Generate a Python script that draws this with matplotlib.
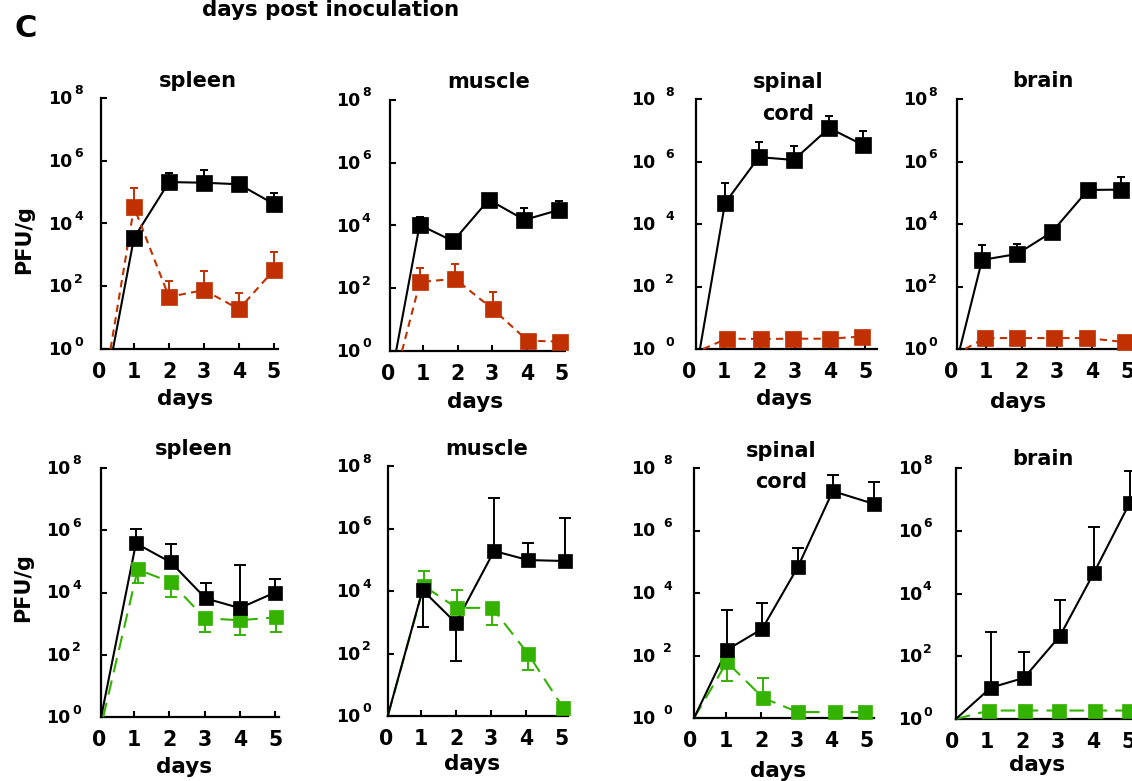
import numpy as np
import matplotlib
matplotlib.use("Agg")
import matplotlib.pyplot as plt

W, H = 1132, 781
plt.rcParams['font.family'] = ['DejaVu Sans']
plt.rcParams['font.weight'] = 'bold'

nan = np.nan
# ---------------- data (log10 PFU/g) ----------------
panel_titles = ["spleen", "muscle", "spinal\ncord", "brain",
                "spleen", "muscle", "spinal\ncord", "brain"]
x_tick_days = [0, 1, 2, 3, 4, 5]
y_tick_exps = [0, 2, 4, 6, 8]
header_text = "days post inoculation"
panel_letter = "C"
x_label = "days"
y_label = "PFU/g"

# top row: black vs red
t_spleen_blk_x = [0.40, 1.0, 2.0, 3.0, 4.0, 5.0]
t_spleen_blk_y = [0, 3.54, 5.32, 5.30, 5.25, 4.62]
t_spleen_blk_hi = [nan, nan, 5.60, 5.70, nan, 4.96]
t_spleen_red_x = [0.33, 1.0, 2.0, 3.0, 4.0, 5.0]
t_spleen_red_y = [0, 4.52, 1.66, 1.88, 1.27, 2.52]
t_spleen_red_hi = [nan, 5.13, 2.17, 2.48, 1.78, 3.09]

t_muscle_blk_x = [0.22, 0.90, 1.87, 2.90, 3.93, 4.94]
t_muscle_blk_y = [0, 4.02, 3.50, 4.82, 4.18, 4.50]
t_muscle_blk_hi = [nan, 4.27, nan, nan, 4.56, 4.78]
t_muscle_red_x = [0.39, 0.91, 1.92, 3.01, 4.02, 4.96]
t_muscle_red_y = [0, 2.20, 2.30, 1.34, 0.33, 0.30]
t_muscle_red_hi = [nan, 2.65, 2.78, 1.88, nan, nan]

t_cord_blk_x = [0.31, 1.02, 1.98, 2.97, 3.97, 4.93]
t_cord_blk_y = [0, 4.67, 6.14, 6.05, 7.07, 6.53]
t_cord_blk_hi = [nan, 5.30, 6.62, 6.50, 7.46, 6.98]
t_cord_red_x = [0.40, 1.07, 2.03, 2.94, 3.99, 4.90]
t_cord_red_y = [0, 0.33, 0.32, 0.33, 0.33, 0.40]

t_brain_blk_x = [0.25, 0.88, 1.87, 2.86, 3.88, 4.82]
t_brain_blk_y = [0, 2.85, 3.04, 3.74, 5.09, 5.10]
t_brain_blk_hi = [nan, 3.33, 3.36, nan, nan, 5.50]
t_brain_red_x = [0.40, 0.96, 1.87, 2.92, 3.85, 4.93]
t_brain_red_y = [0, 0.35, 0.35, 0.35, 0.35, 0.22]

# bottom row: black vs green
b_spleen_blk_x = [0.06, 1.05, 2.04, 3.03, 4.0, 5.0]
b_spleen_blk_y = [0, 5.58, 4.97, 3.81, 3.50, 4.00]
b_spleen_blk_hi = [nan, 6.03, 5.55, 4.30, 4.87, 4.42]
b_spleen_grn_x = [0.12, 1.10, 2.04, 3.01, 4.0, 5.03]
b_spleen_grn_y = [0, 4.74, 4.33, 3.17, 3.11, 3.20]
b_spleen_grn_lo = [nan, 4.30, 3.85, 2.72, 2.63, 2.72]

b_muscle_blk_x = [0.05, 1.04, 1.99, 3.08, 4.05, 5.10]
b_muscle_blk_y = [0, 4.03, 2.98, 5.28, 4.99, 4.96]
b_muscle_blk_hi = [nan, nan, nan, 6.98, 5.54, 6.34]
b_muscle_blk_lo = [nan, 2.85, 1.76, nan, nan, nan]
b_muscle_grn_x = [0.05, 1.08, 2.01, 3.03, 4.04, 5.05]
b_muscle_grn_y = [0, 4.16, 3.46, 3.46, 2.00, 0.26]
b_muscle_grn_hi = [nan, 4.64, 4.03, nan, nan, nan]
b_muscle_grn_lo = [nan, nan, nan, 2.90, 1.47, nan]

b_cord_blk_x = [0.10, 1.03, 2.03, 3.04, 4.03, 5.20]
b_cord_blk_y = [0, 2.18, 2.85, 4.83, 7.26, 6.85]
b_cord_blk_hi = [nan, 3.46, 3.68, 5.44, 7.78, 7.55]
b_cord_grn_x = [0.10, 1.03, 2.06, 3.04, 4.08, 4.93]
b_cord_grn_y = [0, 1.79, 0.64, 0.19, 0.19, 0.19]
b_cord_grn_hi = [nan, nan, 1.28, nan, nan, nan]
b_cord_grn_lo = [nan, 1.18, nan, nan, nan, nan]

b_brain_blk_x = [0.11, 1.10, 2.04, 3.06, 4.02, 5.04]
b_brain_blk_y = [0, 1.00, 1.31, 2.65, 4.66, 6.90]
b_brain_blk_hi = [nan, 2.78, 2.14, 3.80, 6.13, 7.90]
b_brain_grn_x = [0.11, 1.05, 2.07, 3.03, 4.05, 5.00]
b_brain_grn_y = [0, 0.27, 0.27, 0.27, 0.27, 0.27]

# ---------------- styling / layout ----------------
BLACK, RED, GREEN = '#000000', '#c03000', '#33b300'

# pixel geometry: day0 px, px per day, y(10^0), y(10^8), xmax, spine x, "10" right offset, exp left offset
geom = [
    (99.0, 35.0, 349, 98, 5.11, 0.06, -29, -27),
    (388.5, 34.6, 351, 100, 5.10, 0.04, -30, -28),
    (689.0, 35.3, 349, 99, 5.33, 0.20, -41, -31),
    (951.0, 35.3, 349, 99, 6.00, 0.17, -30, -29),
    (99.0, 35.2, 717, 468, 5.10, 0.06, -31, -29),
    (386.0, 35.1, 716, 466, 5.19, 0.06, -28, -26),
    (690.5, 35.3, 718, 468, 5.20, 0.10, -39, -31),
    (952.0, 35.3, 719, 468, 6.00, 0.11, -34, -33),
]
title_pos = [(198, 87, 120), (489, 88, 120), (788, 88, 120), (1043, 87, 120),
             (194, 455, 488), (487, 455, 488), (781, 457, 488), (1043, 465, 496)]
days_pos = [(185, 405), (475, 408), (784, 405), (1018, 408),
            (184, 773), (472, 770), (778, 777), (1037, 771)]

fig = plt.figure(figsize=(W / 100, H / 100), dpi=100)


def fx(x):
    return x / W


def fy(y):
    return 1 - y / H


def series(ax, x, logy, hi, lo, color, dashes, ms, cap):
    x = np.asarray(x, float)
    v = 10 ** np.asarray(logy, float)
    if dashes is None:
        ax.plot(x, v, color=color, lw=1.5, zorder=3, clip_on=False)
    else:
        ax.plot(x, v, color=color, lw=1.5, dashes=dashes, zorder=3, clip_on=False)
    hi = np.full(len(x), nan) if hi is None else np.asarray(hi, float)
    lo = np.full(len(x), nan) if lo is None else np.asarray(lo, float)
    mask = ~(np.isnan(hi) & np.isnan(lo))
    if mask.any():
        up = np.where(np.isnan(hi), 0.0, 10 ** np.nan_to_num(hi) - v)
        dn = np.where(np.isnan(lo), 0.0, v - 10 ** np.nan_to_num(lo))
        ax.errorbar(x[mask], v[mask], yerr=[dn[mask], up[mask]], fmt='none',
                    ecolor=color, elinewidth=1.4, capsize=cap, capthick=1.4,
                    zorder=2, clip_on=False)
    ax.plot(x[1:], v[1:], 's', color=color, ms=ms, mec=color, mew=0.5,
            zorder=4, clip_on=False)


panels = [
    [(t_spleen_blk_x, t_spleen_blk_y, t_spleen_blk_hi, None, BLACK, None),
     (t_spleen_red_x, t_spleen_red_y, t_spleen_red_hi, None, RED, (3.5, 2.5))],
    [(t_muscle_blk_x, t_muscle_blk_y, t_muscle_blk_hi, None, BLACK, None),
     (t_muscle_red_x, t_muscle_red_y, t_muscle_red_hi, None, RED, (3.5, 2.5))],
    [(t_cord_red_x, t_cord_red_y, None, None, RED, (3.5, 2.5)),
     (t_cord_blk_x, t_cord_blk_y, t_cord_blk_hi, None, BLACK, None)],
    [(t_brain_red_x, t_brain_red_y, None, None, RED, (3.5, 2.5)),
     (t_brain_blk_x, t_brain_blk_y, t_brain_blk_hi, None, BLACK, None)],
    [(b_spleen_grn_x, b_spleen_grn_y, None, b_spleen_grn_lo, GREEN, (7, 4)),
     (b_spleen_blk_x, b_spleen_blk_y, b_spleen_blk_hi, None, BLACK, None)],
    [(b_muscle_grn_x, b_muscle_grn_y, b_muscle_grn_hi, b_muscle_grn_lo, GREEN, (7, 4)),
     (b_muscle_blk_x, b_muscle_blk_y, b_muscle_blk_hi, b_muscle_blk_lo, BLACK, None)],
    [(b_cord_grn_x, b_cord_grn_y, b_cord_grn_hi, b_cord_grn_lo, GREEN, (7, 4)),
     (b_cord_blk_x, b_cord_blk_y, b_cord_blk_hi, None, BLACK, None)],
    [(b_brain_grn_x, b_brain_grn_y, None, None, GREEN, (7, 4)),
     (b_brain_blk_x, b_brain_blk_y, b_brain_blk_hi, None, BLACK, None)],
]

for i, (g, sers) in enumerate(zip(geom, panels)):
    d0, ppd, y0, y8, xmax, xa, ten_r, exp_l = g
    ax = fig.add_axes([fx(d0), fy(y0), xmax * ppd / W, (y0 - y8) / H])
    ax.set_facecolor('none')
    ax.set_yscale('log')
    ax.set_ylim(1, 1e8)
    ax.set_xlim(0, xmax)
    for s in ('top', 'right'):
        ax.spines[s].set_visible(False)
    ax.spines['left'].set_position(('data', xa))
    ax.spines['bottom'].set_bounds(xa, xmax)
    for s in ('left', 'bottom'):
        ax.spines[s].set_linewidth(1.6)
    ax.set_yticks([10.0 ** e for e in y_tick_exps])
    ax.yaxis.set_minor_locator(matplotlib.ticker.NullLocator())
    ax.tick_params(axis='y', direction='in', length=4, width=1.5, labelleft=False)
    ax.set_xticks(x_tick_days)
    ax.set_xticklabels([str(d) for d in x_tick_days])
    ax.tick_params(axis='x', direction='in', length=4, width=1.5, pad=9.5,
                   labelsize=14.8)
    for t in ax.get_xticklabels():
        t.set_fontweight('bold')
    ax.xaxis.get_major_ticks()[0].tick1line.set_visible(False)
    ms = 11.5 if i < 4 else 10.3
    cap = 3 if i < 4 else 4
    for (sx, sy, hi, lo, col, dsh) in sers:
        series(ax, sx, sy, hi, lo, col, dsh, ms, cap)
    for e in y_tick_exps:
        ax.annotate('10', xy=(xa, 10.0 ** e), xycoords='data', xytext=(ten_r, -6),
                    textcoords='offset pixels', ha='right', va='baseline',
                    fontsize=12.5, fontweight='bold', annotation_clip=False)
        ax.annotate(str(e), xy=(xa, 10.0 ** e), xycoords='data', xytext=(exp_l, 3.5),
                    textcoords='offset pixels', ha='left', va='baseline',
                    fontsize=9, fontweight='bold', annotation_clip=False)
    # titles
    tx, tb1, tb2 = title_pos[i]
    lines = panel_titles[i].split('\n')
    fig.text(fx(tx), fy(tb1), lines[0], ha='center', va='baseline', fontsize=15,
             fontweight='bold')
    if len(lines) > 1:
        fig.text(fx(tx), fy(tb2), lines[1], ha='center', va='baseline', fontsize=15,
                 fontweight='bold')
    dx, db = days_pos[i]
    fig.text(fx(dx), fy(db), x_label, ha='center', va='baseline', fontsize=15.5,
             fontweight='bold')

fig.text(fx(24), fy(240), y_label, rotation=90, ha='center', va='center',
         fontsize=15, fontweight='bold')
fig.text(fx(23), fy(588), y_label, rotation=90, ha='center', va='center',
         fontsize=15, fontweight='bold')
fig.text(fx(14), fy(37), panel_letter, ha='left', va='baseline', fontsize=22,
         fontweight='bold')
fig.text(fx(202), fy(16), header_text, ha='left', va='baseline', fontsize=15.4,
         fontweight='bold')

fig.savefig('out.png', dpi=100)
